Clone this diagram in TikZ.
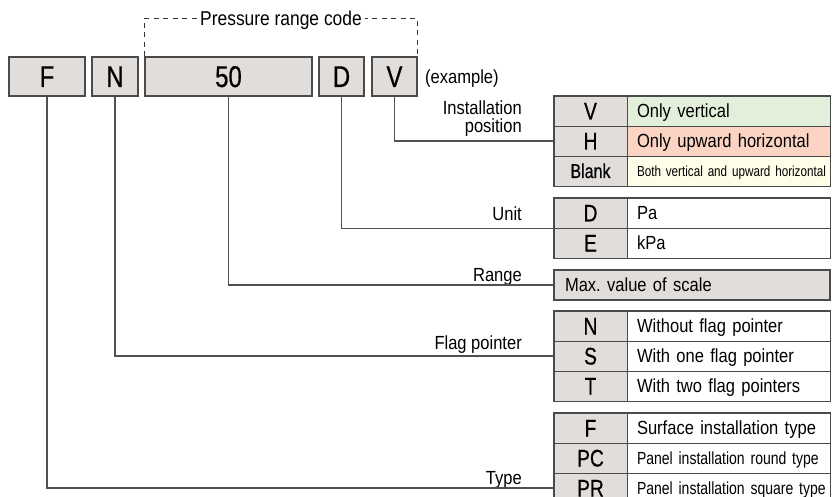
\documentclass[tikz,border=0pt]{standalone}
\usepackage{fontspec}
\setmainfont{Liberation Sans}
\newfontfamily\txtfont[FakeStretch=0.87]{Liberation Sans}
\newfontfamily\codefont[FakeStretch=0.8,FakeBold=0.6]{Liberation Sans}
\newfontfamily\smallfont[FakeStretch=0.8]{Liberation Sans}
\definecolor{cellgrey}{HTML}{E1DDDA}
\definecolor{framec}{HTML}{4A4A4A}
\definecolor{linec}{HTML}{505050}
\definecolor{greenc}{HTML}{E2EFDA}
\definecolor{salmonc}{HTML}{FBD4C4}
\definecolor{creamc}{HTML}{FFFCE8}
\tikzset{
  topbox/.style={draw=framec, line width=1.1pt, fill=cellgrey, inner sep=0pt,
    minimum height=39pt, text height=21pt, text depth=0pt,
    font=\codefont\fontsize{30}{30}\selectfont},
  codecell/.style={draw=framec, line width=0.9pt, fill=cellgrey, inner sep=0pt,
    minimum width=73pt, minimum height=30pt, text height=17pt, text depth=0pt,
    font=\codefont\fontsize{24}{24}\selectfont},
  blankcell/.style={codecell, text height=14pt,
    font=\codefont\fontsize{20}{20}\selectfont},
  desccell/.style={draw=framec, line width=0.9pt, fill=white, inner xsep=10pt,
    inner ysep=0pt, minimum width=203pt, text width=183pt, minimum height=30pt,
    align=left, text height=13.6pt, text depth=0pt,
    font=\txtfont\fontsize{19}{19}\selectfont},
  smalldesc/.style={desccell, text height=12pt,
    font=\smallfont\fontsize{17.5}{17.5}\selectfont},
  rangecell/.style={draw=framec, line width=1.1pt, fill=cellgrey, inner xsep=11pt,
    inner ysep=0pt, minimum width=276pt, text width=254pt, minimum height=30pt,
    align=left, text height=13.6pt, text depth=0pt,
    font=\txtfont\fontsize{19}{19}\selectfont},
  tableframe/.style={draw=framec, line width=1.3pt},
  conn/.style={draw=linec, line width=1.1pt},
  lbl/.style={inner sep=0pt, text height=13.6pt, text depth=4pt,
    font=\txtfont\fontsize{19}{18}\selectfont},
  bracket/.style={draw=black!80, line width=0.8pt, dash pattern=on 5pt off 4.5pt}
}
\begin{document}
\frenchspacing
\begin{tikzpicture}[x=1pt,y=-1pt]
\clip (0,0) rectangle (840,497);
\fill[white] (0,0) rectangle (840,497);

% top code boxes
\node[topbox, minimum width=76pt] (bF) at (47,76.5) {F};
\node[topbox, minimum width=46pt] (bN) at (115,76.5) {N};
\node[topbox, minimum width=167pt] (b50) at (228.5,76.5) {50};
\node[topbox, minimum width=45pt] (bD) at (341.5,76.5) {D};
\node[topbox, minimum width=45pt] (bV) at (394.5,76.5) {V};
\node[lbl, anchor=west] (ex) at (425,79) {(example)};

% pressure range code bracket
\draw[bracket] (b50.north west) -- ++(0,-38) coordinate (brL) -| (bV.north east);
\node[lbl, fill=white, inner xsep=3pt, font=\txtfont\fontsize{20}{20}\selectfont] (prc) at (281,21) {Pressure range code};

% installation position table
\node[codecell] (cV) at (590.5,111) {V};
\node[desccell, fill=greenc] (dV) at (728.5,111) {\mbox{Only vertical}};
\node[codecell] (cH) at (590.5,141) {H};
\node[desccell, fill=salmonc] (dH) at (728.5,141) {\mbox{Only upward horizontal}};
\node[blankcell] (cB) at (590.5,171) {Blank};
\node[smalldesc, fill=creamc, text height=10.5pt, font=\smallfont\fontsize{14.6}{14.6}\selectfont] (dB) at (728.5,171) {\mbox{Both vertical and upward horizontal}};
\draw[tableframe] (cV.north west) rectangle (dB.south east);

% unit table
\node[codecell] (cD) at (590.5,213) {D};
\node[desccell] (dD) at (728.5,213) {\mbox{Pa}};
\node[codecell] (cE) at (590.5,243) {E};
\node[desccell] (dE) at (728.5,243) {\mbox{kPa}};
\draw[tableframe] (cD.north west) rectangle (dE.south east);

% range
\node[rangecell] (rng) at (692,285) {\mbox{Max.\ value of scale}};

% flag pointer table
\node[codecell] (cN) at (590.5,326) {N};
\node[desccell] (dN) at (728.5,326) {\mbox{Without flag pointer}};
\node[codecell] (cS) at (590.5,356) {S};
\node[desccell] (dS) at (728.5,356) {\mbox{With one flag pointer}};
\node[codecell] (cT) at (590.5,386) {T};
\node[desccell] (dT) at (728.5,386) {\mbox{With two flag pointers}};
\draw[tableframe] (cN.north west) rectangle (dT.south east);

% type table
\node[codecell] (cF) at (590.5,428) {F};
\node[desccell] (dF) at (728.5,428) {\mbox{Surface installation type}};
\node[codecell] (cPC) at (590.5,458) {PC};
\node[smalldesc] (dPC) at (728.5,458) {\mbox{Panel installation round type}};
\node[codecell] (cPR) at (590.5,488) {PR};
\node[smalldesc] (dPR) at (728.5,488) {\mbox{Panel installation square type}};
\draw[tableframe] (cF.north west) rectangle (dPR.south east);

% labels
\node[lbl, anchor=east, align=right] (lInst) at (522,128) {Installation\\position};
\node[lbl, anchor=east] (lUnit) at (522,216) {Unit};
\node[lbl, anchor=east] (lRange) at (522,277) {Range};
\node[lbl, anchor=east] (lFlag) at (522,345) {Flag pointer};
\node[lbl, anchor=east] (lType) at (522,480) {Type};

% connectors
\coordinate (uMid) at (cD.south west);
\draw[conn] (bV.south) |- (cH.west);
\draw[conn] (bD.south) |- (uMid);
\draw[conn] (b50.south) |- (rng.west);
\draw[conn] (bN.south) |- (cS.west);
\draw[conn] (bF.south) |- (cPR.west);
\end{tikzpicture}
\end{document}
